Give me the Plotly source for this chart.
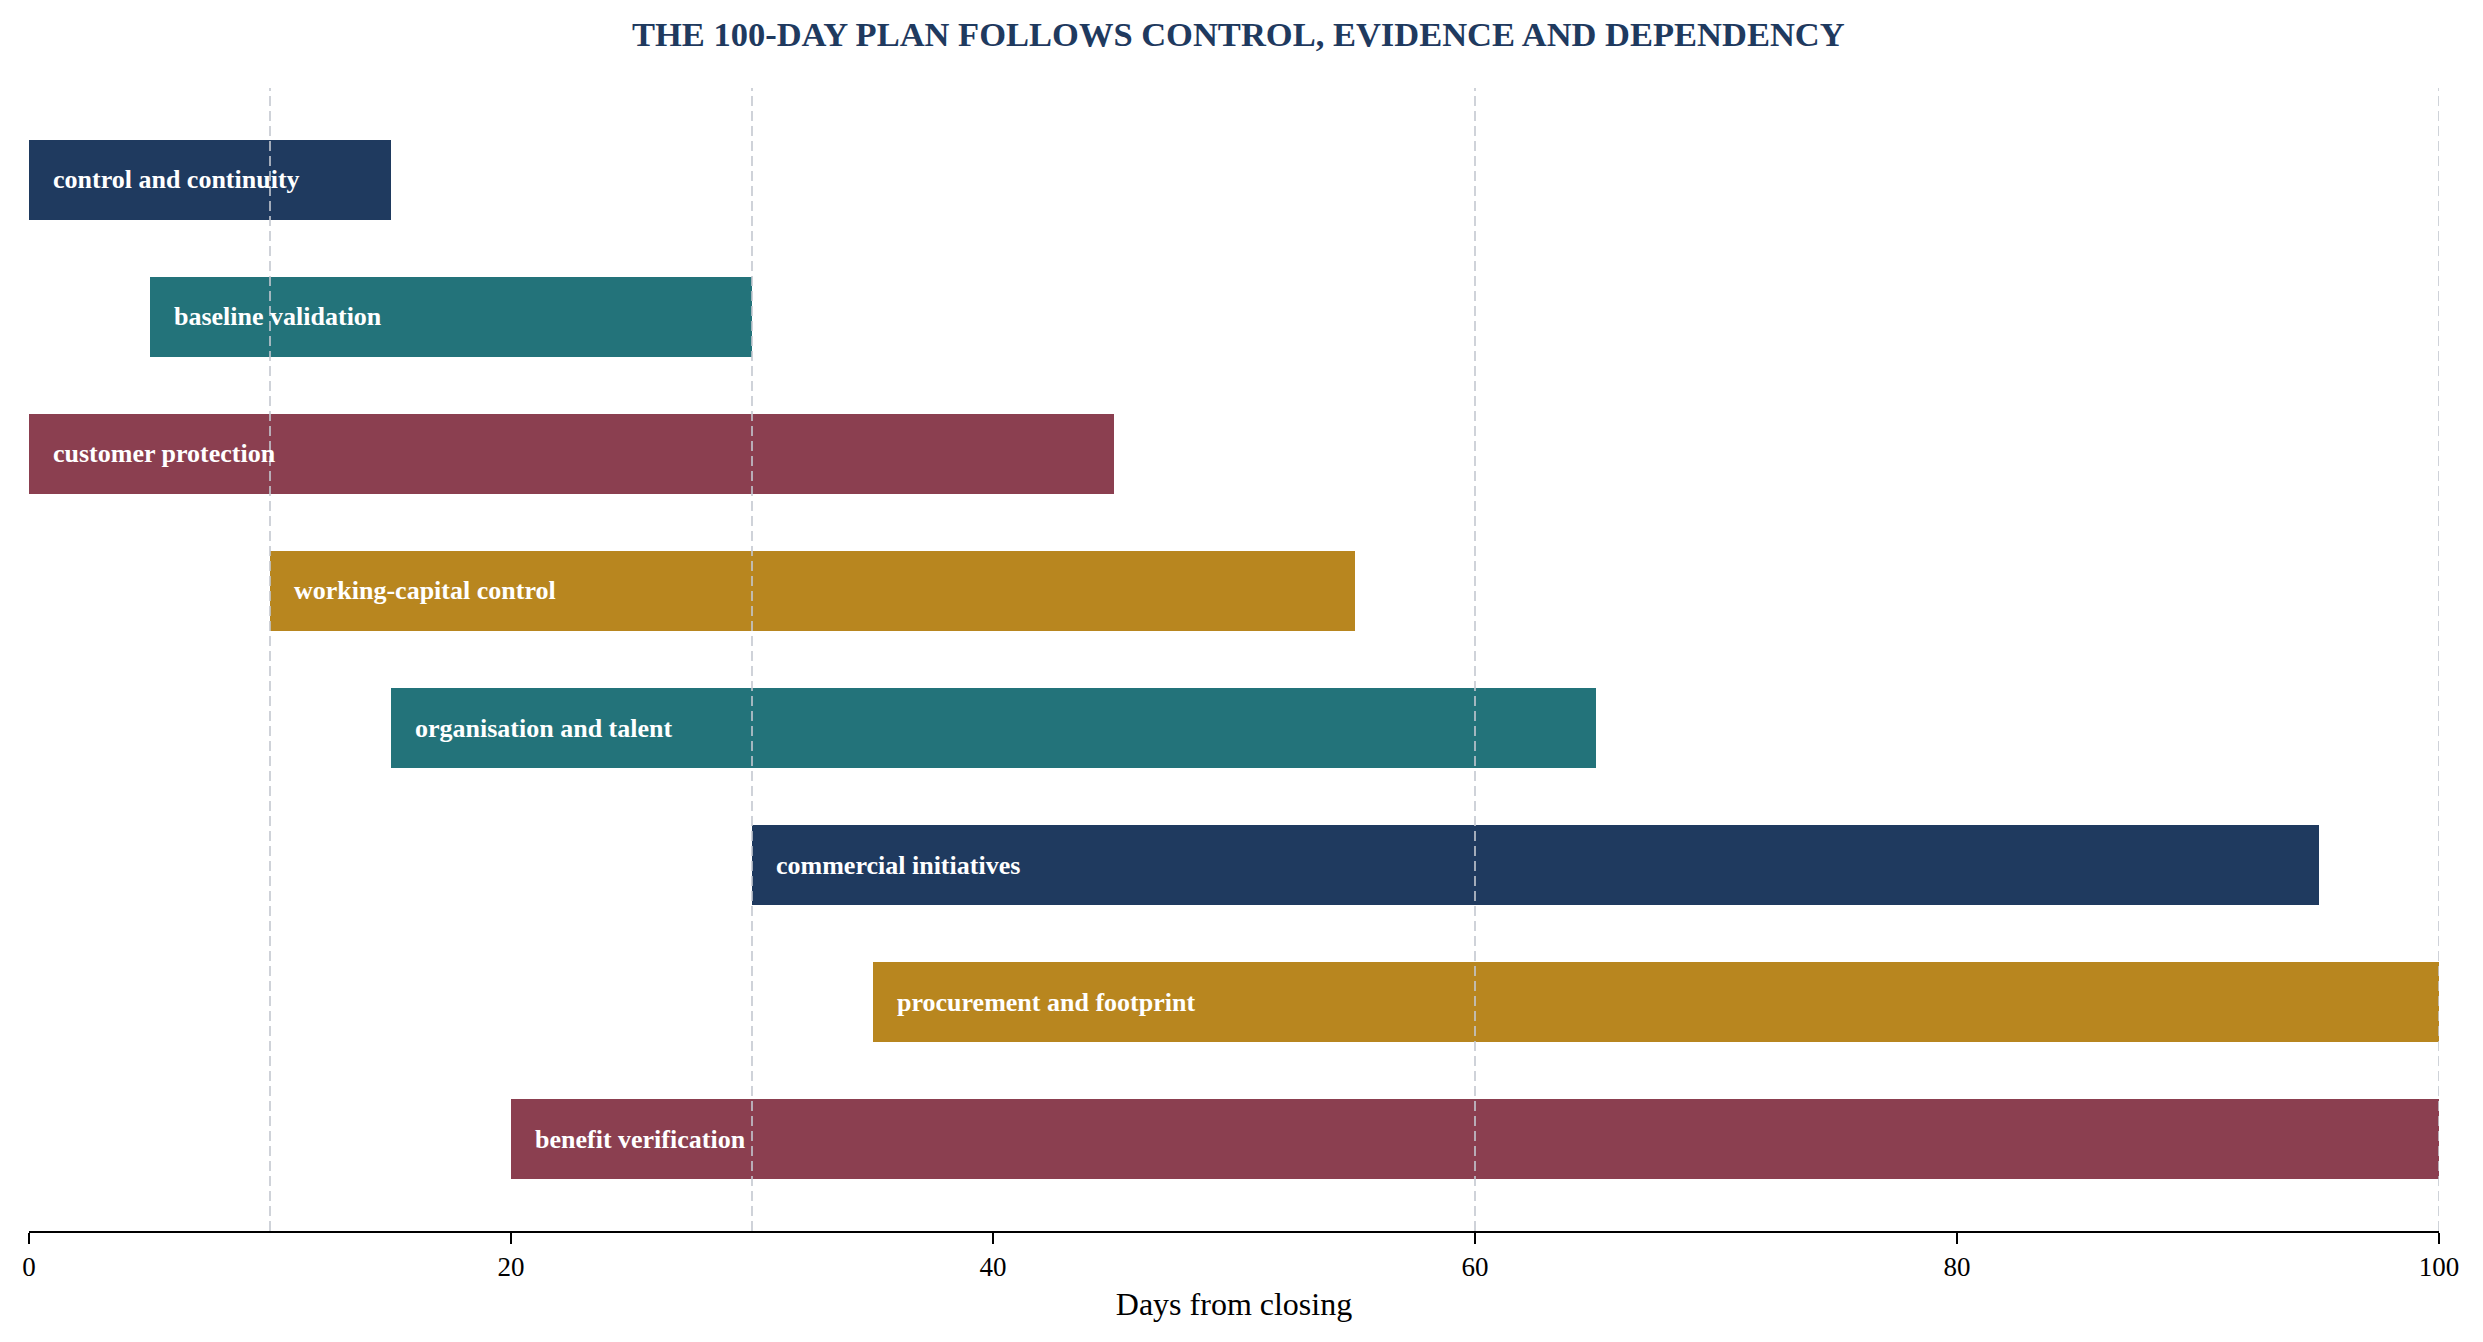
import plotly.graph_objects as go

# workstreams of the 100-day plan, top to bottom
workstreams = [
    "control and continuity",
    "baseline validation",
    "customer protection",
    "working-capital control",
    "organisation and talent",
    "commercial initiatives",
    "procurement and footprint",
    "benefit verification",
]
start_day = [0, 5, 0, 10, 15, 30, 35, 20]
end_day = [15, 30, 45, 55, 65, 95, 100, 100]
milestones = [10, 30, 60, 100]
x_ticks = [0, 20, 40, 60, 80, 100]

NAVY = "#1f3a5f"
TEAL = "#23737a"
MAROON = "#8b3f50"
GOLD = "#b8861f"
bar_colors = [NAVY, TEAL, MAROON, GOLD, TEAL, NAVY, GOLD, MAROON]

SERIF = "Liberation Serif, Times New Roman, serif"

durations = [e - s for s, e in zip(start_day, end_day)]

fig = go.Figure()
fig.add_trace(go.Bar(
    y=workstreams,
    x=durations,
    base=start_day,
    orientation="h",
    width=0.58,
    marker=dict(color=bar_colors, line=dict(width=0)),
    hoverinfo="skip",
    showlegend=False,
))

# labels sit just inside the left end of each bar
for name, s in zip(workstreams, start_day):
    fig.add_annotation(
        x=s, y=name, xref="x", yref="y",
        text=f"<b>{name}</b>", showarrow=False,
        xanchor="left", xshift=22,
        font=dict(family=SERIF, size=26, color="white"),
    )

# dashed milestone markers drawn over the bars
for m in milestones:
    fig.add_shape(
        type="line", xref="x", yref="paper",
        x0=m, x1=m, y0=0, y1=1,
        line=dict(color="#c4c8d0", width=1.6, dash="10px,5px"),
        layer="above",
    )

fig.update_layout(
    width=2483,
    height=1342,
    margin=dict(l=21, r=52, t=80, b=119),
    paper_bgcolor="white",
    plot_bgcolor="white",
    title=dict(
        text="<b>THE 100-DAY PLAN FOLLOWS CONTROL, EVIDENCE AND DEPENDENCY</b>",
        x=0.4955, xanchor="center", y=1 - 26 / 1342, yanchor="middle",
        font=dict(family=SERIF, size=34.5, color=NAVY),
    ),
    font=dict(family=SERIF, color="black"),
    bargap=0,
)

fig.update_xaxes(
    range=[0, 100],
    tickmode="array", tickvals=x_ticks,
    ticks="outside", ticklen=11, tickwidth=1.5, tickcolor="black",
    tickfont=dict(family=SERIF, size=27, color="black"),
    showline=True, linecolor="black", linewidth=2,
    showgrid=False, zeroline=False,
    title=dict(text="Days from closing", standoff=11,
               font=dict(family=SERIF, size=32, color="black")),
)
fig.update_yaxes(
    range=[7.67, -0.67],
    showticklabels=False, showgrid=False, zeroline=False,
    showline=False, ticks="",
)

fig.write_html("out.html")
